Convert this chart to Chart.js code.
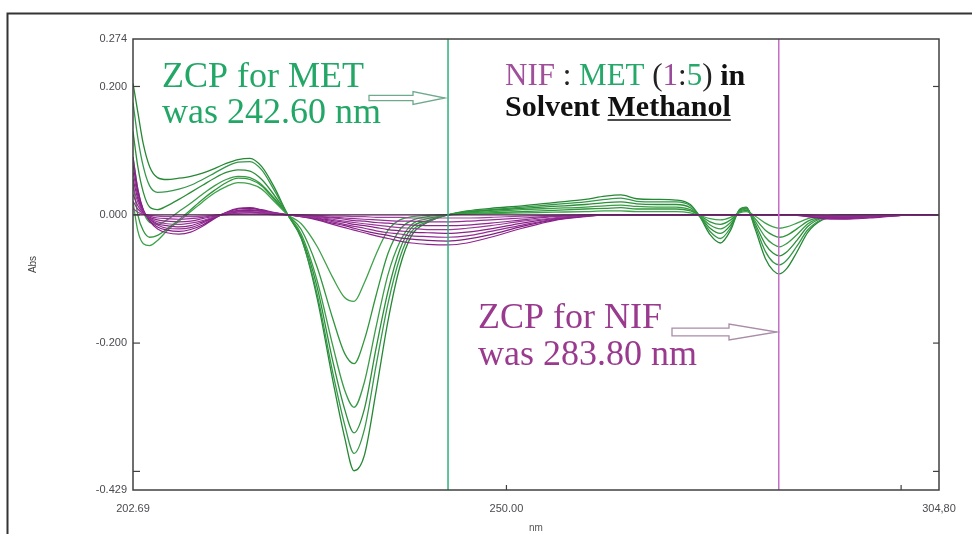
<!DOCTYPE html>
<html>
<head>
<meta charset="utf-8">
<script src="https://cdn.jsdelivr.net/npm/chart.js@4.4.1/dist/chart.umd.min.js"></script>
<style>
html,body{margin:0;padding:0;background:#fff;}
canvas{display:block;}
</style>
</head>
<body>
<canvas id="c" width="972" height="534"></canvas>
<script>
// ---- data ----
const wavelengths = [202.69,203.3,204,204.8,205.8,207,208.5,210,211.5,213,214.5,216,217.5,219,220.5,222.3,224,226,228,229.5,230.7,232,233.5,235,236.5,238,240,242.6,245,248,252,256,260,262.5,264.5,266.5,269,271.5,273.3,274.5,275.8,277.1,278.4,279.5,280.4,281.5,282.8,283.8,284.6,285.5,286.8,288.2,290,292.5,296,300,304.8];

// MET-containing (green) derivative curves
const met1 = [0.02,-0.025,-0.045,-0.048,-0.04,-0.025,-0.01,0.005,0.02,0.034,0.044,0.05,0.048,0.04,0.022,0,-0.014,-0.049,-0.098,-0.129,-0.135,-0.106,-0.061,-0.024,-0.008,-0.003,-0.001,0,0.001,0.002,0.003,0.004,0.005,0.006,0.006,0.005,0.005,0.005,0.003,-0.001,-0.006,-0.008,-0.004,0.003,0.005,-0.002,-0.013,-0.019,-0.021,-0.019,-0.013,-0.006,-0.002,0,0,0,0];
const met2 = [0.05,0.0,-0.025,-0.035,-0.032,-0.022,-0.008,0.008,0.024,0.038,0.05,0.057,0.055,0.045,0.025,0,-0.023,-0.081,-0.162,-0.216,-0.232,-0.195,-0.125,-0.06,-0.023,-0.009,-0.003,0,0.002,0.003,0.005,0.007,0.009,0.01,0.011,0.009,0.009,0.009,0.006,-0.001,-0.011,-0.015,-0.008,0.004,0.007,-0.006,-0.024,-0.032,-0.035,-0.032,-0.022,-0.01,-0.003,0,0,0,0];
const met3 = [0.09,0.04,0.005,-0.012,-0.015,-0.008,0.005,0.018,0.032,0.045,0.055,0.06,0.058,0.047,0.027,0,-0.03,-0.102,-0.204,-0.273,-0.3,-0.261,-0.174,-0.093,-0.042,-0.015,-0.006,0,0.003,0.005,0.008,0.01,0.012,0.014,0.015,0.013,0.012,0.012,0.008,-0.002,-0.016,-0.022,-0.012,0.005,0.009,-0.01,-0.035,-0.046,-0.05,-0.045,-0.031,-0.014,-0.004,-0.001,0,0,0];
const met4 = [0.13,0.075,0.035,0.012,0.008,0.014,0.024,0.035,0.046,0.057,0.066,0.07,0.068,0.055,0.032,0,-0.034,-0.112,-0.228,-0.303,-0.34,-0.303,-0.207,-0.119,-0.054,-0.02,-0.009,0,0.004,0.007,0.01,0.013,0.016,0.019,0.02,0.017,0.016,0.016,0.011,-0.002,-0.021,-0.029,-0.016,0.006,0.01,-0.014,-0.046,-0.06,-0.064,-0.058,-0.04,-0.018,-0.005,-0.001,0,0,0];
const met5 = [0.175,0.12,0.075,0.045,0.035,0.036,0.04,0.046,0.055,0.065,0.075,0.082,0.083,0.07,0.04,0,-0.037,-0.123,-0.246,-0.327,-0.372,-0.335,-0.234,-0.138,-0.067,-0.026,-0.011,0,0.005,0.008,0.012,0.016,0.02,0.024,0.026,0.021,0.02,0.02,0.014,-0.003,-0.026,-0.037,-0.02,0.007,0.011,-0.018,-0.057,-0.074,-0.078,-0.071,-0.049,-0.023,-0.007,-0.001,0,0,0];
const met6 = [0.205,0.16,0.11,0.075,0.058,0.055,0.057,0.06,0.065,0.072,0.08,0.086,0.088,0.075,0.045,0,-0.036,-0.129,-0.258,-0.347,-0.399,-0.375,-0.274,-0.165,-0.081,-0.032,-0.012,0,0.006,0.01,0.014,0.019,0.024,0.029,0.031,0.025,0.024,0.023,0.016,-0.003,-0.031,-0.044,-0.024,0.008,0.012,-0.022,-0.068,-0.087,-0.092,-0.084,-0.058,-0.027,-0.008,-0.002,0,0,0];

// NIF-containing (purple) derivative curves
const nif1 = [0.01,0.004,0.001,-0.001,-0.002,-0.003,-0.003,-0.003,-0.002,-0.001,0,0.001,0.001,0.001,0,0,0,-0.001,-0.002,-0.002,-0.003,-0.003,-0.004,-0.004,-0.004,-0.005,-0.005,-0.005,-0.005,-0.004,-0.002,-0.001,0,0,0,0,0,0,0,0,0,0,0,0,0,0,0,0,0,0,0,0,-0.001,-0.001,-0.001,0,0];
const nif2 = [0.021,0.009,0.002,-0.002,-0.005,-0.006,-0.007,-0.006,-0.004,-0.001,0.001,0.002,0.003,0.002,0.001,0,-0.001,-0.002,-0.004,-0.005,-0.006,-0.007,-0.008,-0.009,-0.01,-0.01,-0.011,-0.011,-0.01,-0.008,-0.005,-0.002,-0.001,0,0,0,0,0,0,0,0,0,0,0,0,0,0,0,0,0,0,-0.001,-0.001,-0.002,-0.001,0,0];
const nif3 = [0.032,0.014,0.003,-0.004,-0.008,-0.01,-0.011,-0.01,-0.006,-0.002,0.001,0.004,0.004,0.003,0.001,0,-0.001,-0.003,-0.005,-0.007,-0.009,-0.01,-0.012,-0.013,-0.015,-0.016,-0.017,-0.017,-0.016,-0.013,-0.008,-0.003,-0.001,0,0,0,0,0,0,0,0,0,0,0,0,0,0,0,0,0,0,-0.001,-0.002,-0.003,-0.002,0,0];
const nif4 = [0.044,0.02,0.004,-0.005,-0.011,-0.014,-0.015,-0.013,-0.009,-0.003,0.002,0.005,0.005,0.004,0.002,0,-0.002,-0.004,-0.007,-0.01,-0.012,-0.014,-0.016,-0.018,-0.02,-0.021,-0.023,-0.023,-0.021,-0.017,-0.01,-0.005,-0.001,0,0,0,0,0,0,0,0,0,0,0,0,0,0,0,0,0,0,-0.001,-0.003,-0.003,-0.002,0,0];
const nif5 = [0.056,0.025,0.005,-0.006,-0.014,-0.017,-0.019,-0.017,-0.011,-0.004,0.002,0.006,0.007,0.005,0.002,0,-0.002,-0.005,-0.009,-0.012,-0.015,-0.017,-0.02,-0.023,-0.025,-0.027,-0.028,-0.029,-0.027,-0.022,-0.013,-0.006,-0.002,0,0,0,0,0,0,0,0,0,0,0,0,0,0,0,0,0,0,-0.002,-0.004,-0.004,-0.003,-0.001,0];
const nif6 = [0.067,0.03,0.006,-0.007,-0.016,-0.021,-0.022,-0.02,-0.013,-0.004,0.003,0.007,0.008,0.006,0.003,0,-0.002,-0.006,-0.011,-0.015,-0.018,-0.021,-0.025,-0.028,-0.03,-0.033,-0.034,-0.035,-0.033,-0.026,-0.016,-0.007,-0.002,0,0,0,0,0,0,0,0,0,0,0,0,0,0,0,0,0,0,-0.002,-0.004,-0.005,-0.004,-0.001,0];
const nif7 = [0.078,0.035,0.007,-0.009,-0.019,-0.024,-0.026,-0.023,-0.016,-0.005,0.003,0.009,0.01,0.007,0.003,0,-0.003,-0.007,-0.013,-0.017,-0.021,-0.025,-0.029,-0.032,-0.036,-0.038,-0.04,-0.041,-0.038,-0.031,-0.018,-0.008,-0.002,0,0,0,0,0,0,0,0,0,0,0,0,0,0,0,0,0,0,-0.003,-0.005,-0.006,-0.004,-0.001,0];
const nif8 = [0.09,0.04,0.008,-0.01,-0.022,-0.028,-0.03,-0.027,-0.018,-0.006,0.004,0.01,0.011,0.008,0.004,0,-0.003,-0.008,-0.015,-0.02,-0.024,-0.028,-0.033,-0.037,-0.041,-0.044,-0.046,-0.047,-0.044,-0.035,-0.021,-0.009,-0.003,0,0,0,0,0,0,0,0,0,0,0,0,0,0,0,0,0,-0.001,-0.003,-0.006,-0.007,-0.005,-0.001,0];

const baselineX = [202.69, 304.8];
const baselineY = [0, 0];

// zero-crossing marker wavelengths (line positions as drawn in the picture)
const zcpMET = 242.60;
const zcpNIF = 284.5;

// axis ticks
const yTickValues = [-0.429, -0.4, -0.2, 0, 0.2, 0.274];
const yTickLabels = ['-0.429', '', '-0.200', '0.000', '0.200', '0.274'];
const yMarkValues = [0.2, 0, -0.2, -0.4];
const xTickValues = [202.69, 250, 300, 304.8];
const xTickLabels = ['202.69', '250.00', '', '304,80'];
const xMarkValues = [250, 300];

const metSeries = [met1, met2, met3, met4, met5, met6];
const nifSeries = [nif1, nif2, nif3, nif4, nif5, nif6, nif7, nif8];
const metColors = ['#3ea24a', '#2f963c', '#3a9c46', '#2b8e38', '#35984a', '#268834'];
const nifColors = ['#a043a0', '#962e96', '#8a2a8a', '#9c3a9c', '#872287', '#932c93', '#7f1f80', '#8e248e'];

const toPts = (xs, ys) => xs.map((x, i) => ({x: x, y: ys[i]}));

const datasets = [];
datasets.push({data: toPts(baselineX, baselineY), borderColor: '#4a1a48', borderWidth: 1.3});
nifSeries.forEach((s, i) => datasets.push({data: toPts(wavelengths, s), borderColor: nifColors[i], borderWidth: 1.2}));
metSeries.forEach((s, i) => datasets.push({data: toPts(wavelengths, s), borderColor: metColors[i], borderWidth: 1.3}));
datasets.forEach(d => { d.pointRadius = 0; d.fill = false; d.cubicInterpolationMode = 'monotone'; });

function hollowArrow(ctx, x0, x1, y, sh, hh, hl, color) {
  const xb = x1 - hl;
  ctx.save();
  ctx.beginPath();
  ctx.moveTo(x0, y - sh);
  ctx.lineTo(xb, y - sh);
  ctx.lineTo(xb, y - hh);
  ctx.lineTo(x1, y);
  ctx.lineTo(xb, y + hh);
  ctx.lineTo(xb, y + sh);
  ctx.lineTo(x0, y + sh);
  ctx.closePath();
  ctx.fillStyle = '#fff';
  ctx.fill();
  ctx.strokeStyle = color;
  ctx.lineWidth = 1.3;
  ctx.stroke();
  ctx.restore();
}

function drawSegments(ctx, x, y, segs) {
  segs.forEach(s => {
    ctx.font = s[2];
    ctx.fillStyle = s[1];
    ctx.fillText(s[0], x, y);
    x += ctx.measureText(s[0]).width;
  });
  return x;
}

const decor = {
  id: 'decor',
  afterDatasetsDraw(chart) {
    const {ctx, chartArea: a, scales: {x, y}} = chart;
    ctx.save();
    // ZCP vertical lines
    ctx.lineWidth = 1.5;
    ctx.strokeStyle = '#2cb27a';
    let px = x.getPixelForValue(zcpMET);
    ctx.beginPath(); ctx.moveTo(px, a.top); ctx.lineTo(px, a.bottom); ctx.stroke();
    ctx.strokeStyle = '#c46ec8';
    px = x.getPixelForValue(zcpNIF);
    ctx.beginPath(); ctx.moveTo(px, a.top); ctx.lineTo(px, a.bottom); ctx.stroke();

    // plot frame
    ctx.strokeStyle = '#404040';
    ctx.lineWidth = 1.5;
    ctx.strokeRect(a.left, a.top, a.right - a.left, a.bottom - a.top);
    // inward tick marks
    ctx.lineWidth = 1.2;
    yMarkValues.forEach(v => {
      const py = y.getPixelForValue(v);
      ctx.beginPath(); ctx.moveTo(a.left, py); ctx.lineTo(a.left + 7, py); ctx.stroke();
      ctx.beginPath(); ctx.moveTo(a.right, py); ctx.lineTo(a.right - 6, py); ctx.stroke();
    });
    xMarkValues.forEach(v => {
      const p = x.getPixelForValue(v);
      ctx.beginPath(); ctx.moveTo(p, a.bottom); ctx.lineTo(p, a.bottom - 5); ctx.stroke();
    });

    // outer picture frame
    ctx.strokeStyle = '#333';
    ctx.lineWidth = 2;
    ctx.beginPath(); ctx.moveTo(7.5, 534); ctx.lineTo(7.5, 13.5); ctx.lineTo(972, 13.5); ctx.stroke();

    // annotations
    ctx.textBaseline = 'alphabetic';
    ctx.textAlign = 'left';
    const serif = '"Liberation Serif", "Times New Roman", serif';
    const green = '#22a766';
    const purple = '#9a3a8e';
    ctx.font = '36px ' + serif;
    ctx.fillStyle = green;
    ctx.fillText('ZCP for MET', 162, 87);
    ctx.fillText('was 242.60 nm', 162, 123);
    hollowArrow(ctx, 369, 445, 98, 2.6, 6.5, 32, '#6faa8e');

    ctx.fillStyle = purple;
    ctx.font = '36px ' + serif;
    ctx.fillText('ZCP for NIF', 478, 328);
    ctx.fillText('was 283.80 nm', 478, 365);
    hollowArrow(ctx, 672, 777, 332, 3.8, 8, 48, '#a88ca8');

    const reg = '31px ' + serif;
    const bold = 'bold 30px ' + serif;
    drawSegments(ctx, 505, 85, [
      ['NIF', '#a0509a', reg], [' : ', '#222', reg], ['MET', '#25a86a', reg],
      [' (', '#222', reg], ['1', '#9a4a9a', reg], [':', '#222', reg], ['5', '#25a86a', reg],
      [') ', '#222', reg], ['in', '#111', bold]
    ]);
    const x0 = drawSegments(ctx, 505, 116, [['Solvent ', '#111', bold]]);
    const x1 = drawSegments(ctx, x0, 116, [['Methanol', '#111', bold]]);
    ctx.strokeStyle = '#111';
    ctx.lineWidth = 1.5;
    ctx.beginPath(); ctx.moveTo(x0, 120); ctx.lineTo(x1, 120); ctx.stroke();
    ctx.restore();
  }
};

const tickFont = {family: '"Liberation Sans", Arial, sans-serif', size: 11};

new Chart(document.getElementById('c'), {
  type: 'line',
  data: {datasets: datasets},
  options: {
    responsive: false,
    animation: false,
    layout: {padding: {left: 8, top: 39, right: 33, bottom: 0}},
    plugins: {legend: {display: false}, tooltip: {enabled: false}},
    elements: {line: {tension: 0.4}},
    scales: {
      x: {
        type: 'linear', min: 202.69, max: 304.8,
        afterBuildTicks: s => { s.ticks = xTickValues.map(v => ({value: v})); },
        afterFit: s => { s.height = 44; },
        grid: {display: false, drawTicks: false},
        border: {display: false},
        ticks: {autoSkip: false, maxRotation: 0, padding: 12, color: '#4a4a50', font: tickFont,
                callback: (v, i) => xTickLabels[i]},
        title: {display: true, text: 'nm', color: '#555', font: {family: '"Liberation Sans", Arial, sans-serif', size: 10}, padding: {top: 0, bottom: 0}}
      },
      y: {
        type: 'linear', min: -0.429, max: 0.274,
        afterBuildTicks: s => { s.ticks = yTickValues.map(v => ({value: v})); },
        afterFit: s => { s.width = 125; },
        grid: {display: false, drawTicks: false},
        border: {display: false},
        ticks: {autoSkip: false, padding: 6, color: '#4a4a50', font: tickFont,
                callback: (v, i) => yTickLabels[i]},
        title: {display: true, text: 'Abs', color: '#444', font: {family: '"Liberation Sans", Arial, sans-serif', size: 10}, padding: {top: 19, bottom: 0}}
      }
    }
  },
  plugins: [decor]
});
</script>
</body>
</html>
